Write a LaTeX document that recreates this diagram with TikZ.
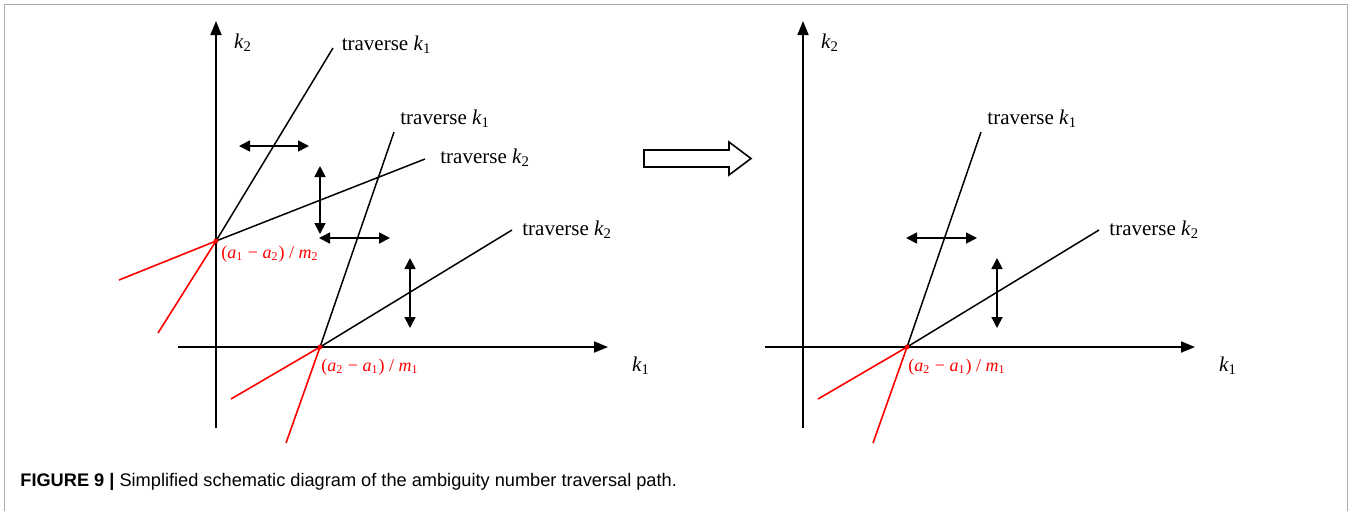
\documentclass[tikz,border=0pt]{standalone}
\usepackage{fontspec}
\setmainfont{Liberation Serif}
\newfontfamily\capfont{Liberation Sans}
\usetikzlibrary{positioning,arrows.meta}
\newcommand{\kv}[1]{\textit{k}\textsubscript{#1}}
\newcommand{\av}[1]{\textit{a}\textsubscript{#1}}
\newcommand{\mv}[1]{\textit{m}\textsubscript{#1}}

\begin{document}
\begin{tikzpicture}[x=0.5pt, y=-0.5pt,
    axis/.style={-{Triangle[length=7pt,width=5.5pt]}, line width=0.9pt},
    trav/.style={line width=0.75pt},
    neg/.style={red, line width=0.8pt},
    swing/.style={{Triangle[length=5.5pt,width=5.5pt]}-{Triangle[length=5.5pt,width=5.5pt]}, line width=0.85pt},
    lbl/.style={inner sep=0pt, font=\fontsize{10.5}{12}\selectfont},
    redlbl/.style={inner sep=0pt, red, font=\fontsize{9}{10}\selectfont}]
  \useasboundingbox (0,0) rectangle (1352,511);
  % frame
  \draw[gray!65, line width=0.7pt] (4.5,511) -- (4.5,4.5) -- (1347.5,4.5) -- (1347.5,511);

  % left panel
  \coordinate (A) at (216,241);
  \coordinate (B) at (320,347);
  \coordinate (t1) at (333,48);
  \coordinate (t2) at (425,159);
  \coordinate (t3) at (394,132);
  \coordinate (t4) at (512,230);
  \draw[neg] (A) -- (119,280);
  \draw[neg] (A) -- (158,333);
  \draw[neg] (B) -- (231,399);
  \draw[neg] (B) -- (286,443);
  \draw[axis] (216,428) -- (216,21);
  \draw[axis] (178,347) -- (608,347);
  \node[lbl] (k2l) at (243,43) {\kv{2}};
  \node[lbl] (k1l) at (641,366) {\kv{1}};
  \draw[trav] (A) -- (t1);
  \draw[trav] (A) -- (t2);
  \draw[trav] (B) -- (t3);
  \draw[trav] (B) -- (t4);
  \node[lbl, right=4.2pt of t1, yshift=1.5pt] (l1) {traverse \kv{1}};
  \node[lbl, right=7.5pt of t2, yshift=0.5pt] (l2) {traverse \kv{2}};
  \node[lbl, right=3pt of t3, yshift=6.5pt] (l3) {traverse \kv{1}};
  \node[lbl, right=5pt of t4] (l4) {traverse \kv{2}};
  \draw[swing] (239,146) -- (309,146);
  \draw[swing] (320,166) -- (320,234);
  \draw[swing] (319,238) -- (390,238);
  \draw[swing] (410,258) -- (410,328);
  \fill[red] (A) circle (1.2pt);
  \fill[red] (B) circle (1.2pt);
  \node[redlbl, right=2.5pt of A, yshift=-6.5pt] (la) {(\av{1} − \av{2}) / \mv{2}};
  \node[redlbl, right=0.5pt of B, yshift=-10pt] (lb) {(\av{2} − \av{1}) / \mv{1}};

  % hollow arrow
  \draw[line width=0.8pt, line join=miter] (644,150) -- (729,150) -- (729,142) -- (751,158.5)
    -- (729,175) -- (729,167) -- (644,167) -- cycle;

  % right panel
  \coordinate (Bp) at (907,347);
  \coordinate (s3) at (981,132);
  \coordinate (s4) at (1099,230);
  \draw[neg] (Bp) -- (818,399);
  \draw[neg] (Bp) -- (873,443);
  \draw[axis] (803,428) -- (803,21);
  \draw[axis] (765,347) -- (1195,347);
  \node[lbl] (k2r) at (830,43) {\kv{2}};
  \node[lbl] (k1r) at (1228,366) {\kv{1}};
  \draw[trav] (Bp) -- (s3);
  \draw[trav] (Bp) -- (s4);
  \node[lbl, right=3pt of s3, yshift=6.5pt] (r3) {traverse \kv{1}};
  \node[lbl, right=5pt of s4] (r4) {traverse \kv{2}};
  \draw[swing] (906,238) -- (977,238);
  \draw[swing] (997,258) -- (997,328);
  \fill[red] (Bp) circle (1.2pt);
  \node[redlbl, right=0.5pt of Bp, yshift=-10pt] (lbp) {(\av{2} − \av{1}) / \mv{1}};

  % caption
  \node[anchor=west, inner sep=0pt, font=\capfont\fontsize{9.1}{11}\selectfont] (cap) at (20,482)
    {\textbf{FIGURE 9 |} Simplified schematic diagram of the ambiguity number traversal path.};
\end{tikzpicture}
\end{document}
